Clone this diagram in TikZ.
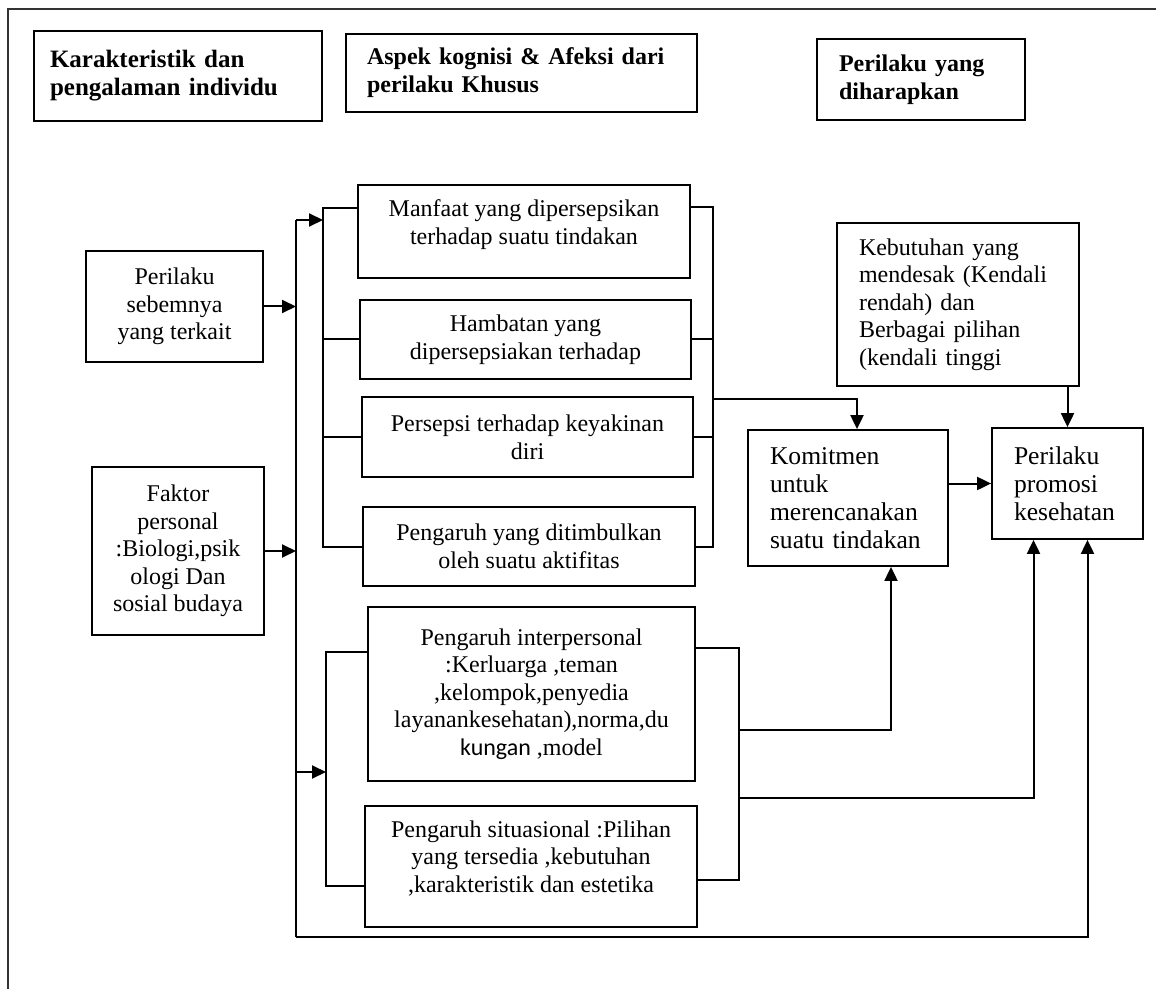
\documentclass[tikz,border=0pt]{standalone}
\usepackage{fontspec}
\setmainfont{Liberation Serif}
\newfontfamily\carl{Carlito}
\usetikzlibrary{arrows.meta,calc}

\begin{document}
\begin{tikzpicture}[x=0.5pt,y=-0.5pt,font=\fontsize{12}{13.8}\selectfont,
  box/.style={draw,line width=.9pt,align=center,inner sep=3pt},
  hdr/.style={draw,line width=1.1pt,font=\fontsize{12}{14}\selectfont\bfseries,align=left},
  lbox/.style={draw,line width=.9pt,align=left,inner xsep=11pt},
  ln/.style={line width=1pt},
  arr/.style={line width=1pt,-{Triangle[length=7pt,width=6.5pt]}}]
  \useasboundingbox (0,0) rectangle (1156,989);
  \draw[line width=.7pt,black!80] (8,989) -- (8,9) -- (1156,9);

  \node[hdr,font=\fontsize{12.5}{14}\selectfont\bfseries,inner xsep=8pt,text width=128pt,minimum height=45pt] (karakter) at (178,76)
    {Karakteristik dan\\pengalaman individu};
  \node[hdr,inner xsep=10.5pt,text width=154.5pt,minimum height=39pt] (aspek) at (521.5,73)
    {Aspek kognisi \& Afeksi dari\\perilaku Khusus};
  \node[hdr,inner xsep=11pt,text width=82pt,minimum height=40.5pt] (harap) at (921,79.5)
    {Perilaku yang\\diharapkan};

  \node[box,minimum width=88.5pt,minimum height=55.5pt] (sebelum) at (174.5,306.5)
    {Perilaku\\sebemnya\\yang terkait};
  \node[box,minimum width=86pt,minimum height=84pt] (faktor) at (178,551)
    {Faktor\\personal\\:Biologi,psik\\ologi Dan\\sosial budaya};

  \node[box,minimum width=166pt,minimum height=46.5pt,text depth=9.7pt] (manfaat) at (524,231.5)
    {Manfaat yang dipersepsikan\\terhadap suatu tindakan};
  \node[box,minimum width=165.5pt,minimum height=39.5pt] (hambatan) at (525.5,339.5)
    {Hambatan yang\\dipersepsiakan terhadap};
  \node[box,minimum width=165.5pt,minimum height=40pt] (persepsi) at (527.5,437)
    {Persepsi terhadap keyakinan\\diri};
  \node[box,minimum width=166pt,minimum height=39.5pt] (pengaruh) at (529,546.5)
    {Pengaruh yang ditimbulkan\\oleh suatu aktifitas};
  \node[box,minimum width=163.5pt,minimum height=87pt] (inter) at (531.5,694)
    {Pengaruh interpersonal\\:Kerluarga ,teman\\,kelompok,penyedia\\layanankesehatan),norma,du\\{\carl kungan} ,model};
  \node[box,minimum width=166pt,minimum height=60.5pt,text depth=10pt] (situasi) at (531,866.5)
    {Pengaruh situasional :Pilihan\\yang tersedia ,kebutuhan\\,karakteristik dan estetika};

  \node[lbox,text width=99pt,minimum height=81.5pt] (kebutuhan) at (958,304.5)
    {Kebutuhan yang\\mendesak (Kendali\\rendah) dan\\Berbagai pilihan\\(kendali tinggi};
  \node[lbox,font=\fontsize{12.8}{14}\selectfont,text width=78pt,minimum height=68pt] (komitmen) at (848,498)
    {Komitmen\\untuk\\merencanakan\\suatu tindakan};
  \node[lbox,font=\fontsize{12.8}{14}\selectfont,text width=53.5pt,minimum height=55.5pt] (promosi) at (1067.5,483.5)
    {Perilaku\\promosi\\kesehatan};

  \coordinate (spineT) at (296,220);
  \coordinate (spineB) at (296,937);
  \coordinate (inA) at (296,772);
  \coordinate (brL) at (323,0);
  \coordinate (brR) at (713,0);
  \coordinate (brLL) at (326,0);
  \coordinate (brLR) at (739,0);
  \coordinate (toK) at (713,399);
  \coordinate (outA) at (739,730);
  \coordinate (outB) at (739,798);

  \draw[ln] (spineT) -- (spineB);
  \draw[arr] (spineB) -| ([xshift=10pt]promosi.south);
  \draw[arr] (spineT) -- (spineT -| brL);
  \draw[arr] (sebelum.east) -- (sebelum.east -| spineT);
  \draw[arr] (faktor.east) -- (faktor.east -| spineT);
  \draw[arr] (inA) -- (inA -| brLL);

  \coordinate (mL) at ($(manfaat.north west)!.25!(manfaat.south west)$);
  \coordinate (mR) at ($(manfaat.north east)!.24!(manfaat.south east)$);
  \draw[ln] (mL) -- (mL -| brL) -- (pengaruh.west -| brL) -- (pengaruh.west);
  \draw[ln] (hambatan.west -| brL) -- (hambatan.west);
  \draw[ln] (persepsi.west -| brL) -- (persepsi.west);
  \draw[ln] (mR) -- (mR -| brR) -- (pengaruh.east -| brR) -- (pengaruh.east);
  \draw[ln] (hambatan.east) -- (hambatan.east -| brR);
  \draw[ln] (persepsi.east) -- (persepsi.east -| brR);
  \draw[arr] (toK) -| ([xshift=4.5pt]komitmen.north);

  \coordinate (iL) at ($(inter.north west)!.26!(inter.south west)$);
  \coordinate (iR) at ($(inter.north east)!.24!(inter.south east)$);
  \coordinate (sL) at ($(situasi.north west)!.66!(situasi.south west)$);
  \coordinate (sR) at ($(situasi.north east)!.61!(situasi.south east)$);
  \draw[ln] (iL) -- (iL -| brLL) -- (sL -| brLL) -- (sL);
  \draw[ln] (iR) -- (iR -| brLR) -- (sR -| brLR) -- (sR);
  \draw[arr] (outA) -| ([xshift=21.5pt]komitmen.south);
  \draw[arr] (outB) -| ([xshift=-17pt]promosi.south);

  \draw[arr] (kebutuhan.south -| promosi.north) -- (promosi.north);
  \draw[arr] (komitmen.east |- promosi.west) -- (promosi.west);
\end{tikzpicture}
\end{document}
